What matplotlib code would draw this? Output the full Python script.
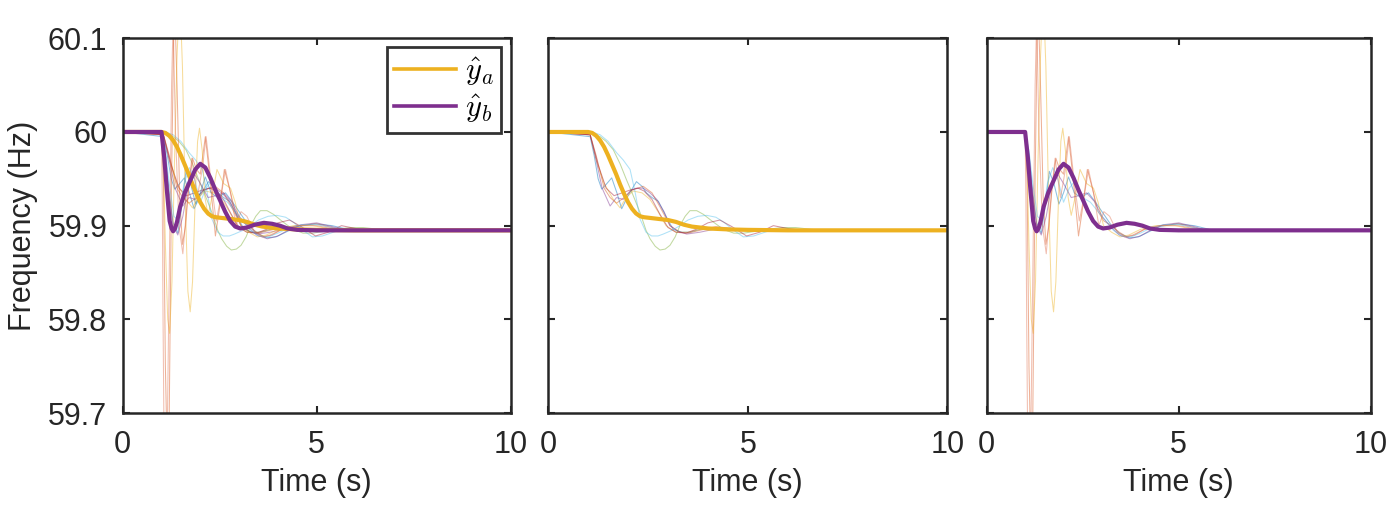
import matplotlib
matplotlib.use("Agg")
import matplotlib.pyplot as plt

plt.rcParams["font.family"] = ["Liberation Sans", "DejaVu Sans"]
plt.rcParams["mathtext.fontset"] = "cm"

# estimates y_a and y_b (thick lines)
t_ya = [0, 1.0, 1.1, 1.2, 1.3, 1.4, 1.5, 1.6, 1.7, 1.8, 1.9, 2.0, 2.1, 2.2, 2.3, 2.4,
        2.6, 2.8, 3.0, 3.2, 3.4, 3.6, 3.8, 4.0, 4.5, 5.0, 6.0, 10]
f_ya = [60, 60, 59.999, 59.996, 59.991, 59.984, 59.975, 59.965, 59.955, 59.944, 59.934,
        59.925, 59.918, 59.913, 59.910, 59.909, 59.908, 59.907, 59.906, 59.904, 59.901,
        59.899, 59.898, 59.897, 59.896, 59.8955, 59.895, 59.895]

t_yb = [0, 1.0, 1.07, 1.14, 1.21, 1.26, 1.3, 1.35, 1.4, 1.48, 1.6, 1.74, 1.87, 2.0, 2.13,
        2.26, 2.4, 2.51, 2.64, 2.77, 2.9, 3.03, 3.2, 3.4, 3.64, 3.85, 4.05, 4.25, 4.5, 5.0, 10]
f_yb = [60, 60, 59.973, 59.937, 59.905, 59.897, 59.894, 59.897, 59.904, 59.920, 59.935,
        59.948, 59.960, 59.966, 59.962, 59.951, 59.937, 59.927, 59.915, 59.905, 59.899,
        59.897, 59.898, 59.901, 59.903, 59.902, 59.900, 59.897, 59.8955, 59.895, 59.895]

# thin traces behind y_a (middle panel)
runs_a = [
    ([0, 1.05, 1.15, 1.25, 1.34, 1.45, 1.59, 1.72, 1.84, 2.0, 2.21, 2.35, 2.46, 2.6, 2.76,
      2.95, 3.13, 3.35, 3.55, 3.8, 4.1, 4.5, 5.0, 5.5, 6, 10],
     [60, 59.995, 59.975, 59.950, 59.939, 59.944, 59.951, 59.935, 59.918, 59.932, 59.947,
      59.942, 59.935, 59.930, 59.926, 59.91, 59.896, 59.893, 59.893, 59.896, 59.898, 59.897,
      59.895, 59.894, 59.895, 59.895]),
    ([0, 1.05, 1.2, 1.4, 1.55, 1.71, 1.9, 2.1, 2.38, 2.6, 2.8, 3.05, 3.3, 3.5, 3.8, 4.2,
      4.6, 5.0, 5.5, 10],
     [60, 59.997, 59.975, 59.94, 59.93, 59.924, 59.93, 59.938, 59.942, 59.935, 59.92, 59.90,
      59.893, 59.892, 59.895, 59.899, 59.897, 59.895, 59.895, 59.895]),
    ([0, 1.05, 1.2, 1.4, 1.63, 1.8, 1.95, 2.13, 2.35, 2.55, 2.75, 2.95, 3.2, 3.5, 3.9, 4.3,
      5, 10],
     [60, 59.997, 59.97, 59.945, 59.928, 59.919, 59.93, 59.937, 59.935, 59.928, 59.915,
      59.9, 59.893, 59.893, 59.897, 59.898, 59.895, 59.895]),
    ([0, 1.05, 1.2, 1.35, 1.55, 1.71, 1.88, 2.05, 2.2, 2.38, 2.55, 2.72, 2.9, 3.05, 3.25,
      3.47, 3.8, 4.14, 4.5, 5, 10],
     [60, 59.997, 59.97, 59.94, 59.921, 59.930, 59.928, 59.937, 59.94, 59.940, 59.935,
      59.928, 59.915, 59.90, 59.894, 59.891, 59.893, 59.896, 59.896, 59.895, 59.895]),
    ([0, 1.1, 1.3, 1.45, 1.63, 1.8, 1.96, 2.13, 2.30, 2.45, 2.55, 2.68, 2.80, 2.93, 3.05,
      3.18, 3.30, 3.43, 3.55, 3.72, 3.89, 4.1, 4.39, 4.65, 4.9, 5.2, 5.5, 5.85, 6.2, 6.6,
      7.0, 10],
     [60, 59.999, 59.995, 59.99, 59.981, 59.966, 59.949, 59.932, 59.914, 59.895, 59.886,
      59.878, 59.874, 59.875, 59.879, 59.888, 59.900, 59.910, 59.916, 59.916, 59.912,
      59.905, 59.896, 59.892, 59.892, 59.894, 59.896, 59.898, 59.898, 59.896, 59.895,
      59.895]),
    ([0, 1.1, 1.3, 1.5, 1.71, 1.88, 2.05, 2.18, 2.30, 2.45, 2.59, 2.75, 2.88, 3.1, 3.30,
      3.5, 3.75, 3.97, 4.2, 4.39, 4.65, 4.89, 5.15, 5.5, 6.0, 6.5, 10],
     [60, 60, 59.997, 59.99, 59.978, 59.970, 59.960, 59.935, 59.907, 59.893, 59.889,
      59.889, 59.891, 59.895, 59.900, 59.906, 59.910, 59.911, 59.909, 59.904, 59.895,
      59.888, 59.889, 59.894, 59.897, 59.895, 59.895]),
    ([0, 1.05, 1.25, 1.45, 1.65, 1.85, 2.05, 2.25, 2.4, 2.6, 2.8, 3.0, 3.2, 3.45, 3.7,
      4.0, 4.3, 4.6, 4.97, 5.3, 5.64, 6.0, 6.5, 7, 10],
     [60, 59.997, 59.965, 59.94, 59.932, 59.935, 59.938, 59.940, 59.937, 59.928, 59.912,
      59.898, 59.893, 59.892, 59.896, 59.903, 59.906, 59.899, 59.889, 59.893, 59.9,
      59.897, 59.894, 59.895, 59.895]),
]

# thin traces behind y_b (right panel)
runs_b = [
    ([0, 1.0, 1.1, 1.2, 1.3, 1.42, 1.52, 1.63, 1.75, 1.88, 2.0, 2.13, 2.28, 2.45, 2.65,
      2.85, 3.05, 3.25, 3.45, 3.7, 3.95, 4.2, 4.5, 4.95, 5.4, 5.8, 6.2, 10],
     [60, 60, 59.975, 59.935, 59.903, 59.892, 59.92, 59.958, 59.945, 59.923, 59.935,
      59.952, 59.935, 59.93, 59.935, 59.924, 59.912, 59.9, 59.892, 59.887, 59.888, 59.893,
      59.899, 59.902, 59.9, 59.896, 59.895, 59.895]),
    ([0, 1.0, 1.05, 1.1, 1.15, 1.2, 1.26, 1.33, 1.4, 1.47, 1.54, 1.62, 1.7, 1.8, 1.9, 2.0,
      2.13, 2.25, 2.39, 2.5, 2.62, 2.75, 2.9, 3.05, 3.25, 3.45, 3.65, 3.85, 4.1, 4.5, 5.0,
      5.5, 6.0, 10],
     [60, 60, 59.95, 59.75, 59.65, 59.7, 59.95, 60.15, 60.05, 59.93, 59.88, 59.9, 59.94,
      59.972, 59.96, 59.955, 59.995, 59.95, 59.889, 59.92, 59.96, 59.94, 59.915, 59.905,
      59.9, 59.893, 59.888, 59.89, 59.896, 59.9, 59.902, 59.897, 59.895, 59.895]),
    ([0, 1.0, 1.05, 1.1, 1.16, 1.21, 1.27, 1.33, 1.4, 1.47, 1.54, 1.61, 1.68, 1.74, 1.8,
      1.87, 1.93, 1.98, 2.05, 2.12, 2.2, 2.3, 2.43, 2.6, 2.78, 2.9, 3.04, 3.25, 3.47, 3.7,
      4.0, 4.4, 4.9, 5.4, 6, 10],
     [60, 60, 59.97, 59.88, 59.8, 59.785, 59.84, 59.96, 60.08, 60.15, 60.07, 59.93, 59.83,
      59.808, 59.84, 59.93, 59.99, 60.004, 59.98, 59.93, 59.911, 59.93, 59.96, 59.945,
      59.94, 59.925, 59.9, 59.893, 59.888, 59.89, 59.896, 59.9, 59.9, 59.896, 59.895,
      59.895]),
    ([0, 1.0, 1.1, 1.2, 1.3, 1.42, 1.55, 1.7, 1.85, 2.0, 2.2, 2.4, 2.6, 2.8, 3.0, 3.2,
      3.45, 3.73, 4.0, 4.3, 4.6, 5.0, 5.4, 5.8, 6.3, 10],
     [60, 60, 59.97, 59.93, 59.9, 59.89, 59.91, 59.945, 59.955, 59.945, 59.93, 59.932,
      59.935, 59.926, 59.91, 59.9, 59.89, 59.886, 59.889, 59.896, 59.901, 59.903, 59.899,
      59.894, 59.895, 59.895]),
    ([0, 1.0, 1.1, 1.2, 1.32, 1.44, 1.58, 1.72, 1.85, 2.0, 2.15, 2.3, 2.5, 2.7, 2.9, 3.1,
      3.3, 3.5, 3.75, 4.0, 4.3, 4.6, 5.0, 5.5, 6, 10],
     [60, 60, 59.98, 59.945, 59.91, 59.905, 59.945, 59.962, 59.95, 59.925, 59.94, 59.948,
      59.93, 59.925, 59.915, 59.905, 59.895, 59.889, 59.888, 59.892, 59.898, 59.901,
      59.901, 59.897, 59.895, 59.895]),
    ([0, 1.0, 1.02, 1.04, 1.08, 1.14, 1.2, 1.26, 1.3, 1.36, 1.45, 1.55, 1.65, 1.78, 1.92,
      2.05, 2.15, 2.27, 2.41, 2.53, 2.65, 2.78, 2.92, 3.05, 3.2, 3.4, 3.6, 3.8, 4.1, 4.5,
      5.0, 5.5, 6, 10],
     [60, 60, 59.93, 59.8, 59.6, 59.65, 59.85, 60.05, 60.12, 60.0, 59.9, 59.87, 59.92,
      59.972, 59.93, 59.96, 59.995, 59.95, 59.905, 59.93, 59.96, 59.935, 59.9, 59.915,
      59.91, 59.893, 59.888, 59.89, 59.896, 59.9, 59.9, 59.896, 59.895, 59.895]),
]

colors_a = ["#0072BD", "#D95319", "#EDB120", "#7E2F8E", "#77AC30", "#4DBEEE", "#A2142F"]
colors_b = ["#0072BD", "#D95319", "#EDB120", "#7E2F8E", "#4DBEEE", "#E07050"]

YA = "#EDB120"
YB = "#7E2F8E"
DARK = "#262626"
FS = 22

fig = plt.figure(figsize=(13.88, 5.08), dpi=100)
boxes = [
    [0.0884, 0.187, 0.2795, 0.7376],
    [0.3950, 0.187, 0.2875, 0.7376],
    [0.7109, 0.187, 0.2767, 0.7376],
]
axes = [fig.add_axes(b) for b in boxes]


def thin(ax, runs, colors):
    for (t, f), c in zip(runs, colors):
        ax.plot(t, f, color=c, lw=0.75, alpha=0.45)


thin(axes[0], runs_a, colors_a)
thin(axes[0], runs_b, colors_b)
axes[0].plot(t_ya, f_ya, color=YA, lw=3, label=r"$\hat{y}_a$")
axes[0].plot(t_yb, f_yb, color=YB, lw=3, label=r"$\hat{y}_b$")

thin(axes[1], runs_a, colors_a)
axes[1].plot(t_ya, f_ya, color=YA, lw=3)

thin(axes[2], runs_b, colors_b)
axes[2].plot(t_yb, f_yb, color=YB, lw=3)

for i, ax in enumerate(axes):
    ax.set_xlim(0, 10)
    ax.set_ylim(59.7, 60.1)
    ax.set_xticks([0, 5, 10])
    ax.set_yticks([59.7, 59.8, 59.9, 60, 60.1])
    ax.set_xticklabels(["0", "5", "10"])
    if i == 0:
        ax.set_yticklabels(["59.7", "59.8", "59.9", "60", "60.1"])
        ax.set_ylabel("Frequency (Hz)", fontsize=FS, color=DARK, labelpad=7)
    else:
        ax.set_yticklabels([])
    ax.set_xlabel("Time (s)", fontsize=FS, color=DARK, labelpad=6)
    ax.tick_params(direction="in", length=5, width=1.5, top=True, right=True,
                   labelsize=FS, colors=DARK)
    ax.tick_params(axis="x", pad=12)
    ax.tick_params(axis="y", pad=11)
    for s in ax.spines.values():
        s.set_linewidth(1.8)
        s.set_color(DARK)

leg = axes[0].legend(loc="upper right", fontsize=FS, frameon=True, fancybox=False,
                     handlelength=2.0, borderaxespad=0.3, borderpad=0.25,
                     labelspacing=0.15, handletextpad=0.3)
leg.get_frame().set_edgecolor("black")
leg.get_frame().set_linewidth(2)
for ln in leg.get_lines():
    ln.set_linewidth(2.6)

fig.savefig("out.png", dpi=100)
